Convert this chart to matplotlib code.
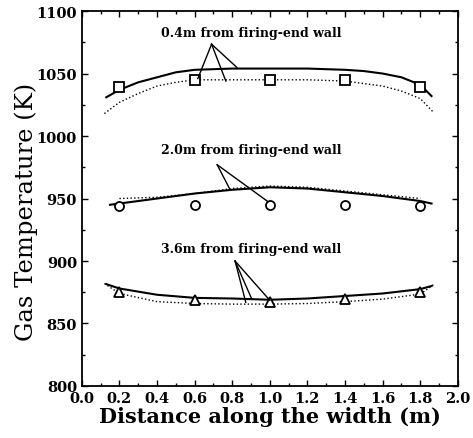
import numpy as np
import matplotlib
matplotlib.use("Agg")
import matplotlib.pyplot as plt
from matplotlib.ticker import MultipleLocator, FormatStrFormatter

# measured points (markers)
x_meas = [0.2, 0.6, 1.0, 1.4, 1.8]
t_04_meas = [1039, 1045, 1045, 1045, 1039]
t_20_meas = [944, 945, 945, 945, 944]
t_36_meas = [875, 869, 867, 869.5, 875.5]

# predicted curves, solid
x_04_solid = [0.13, 0.2, 0.3, 0.4, 0.5, 0.6, 0.8, 1.0, 1.2, 1.4, 1.5, 1.6, 1.7, 1.8, 1.86]
t_04_solid = [1031, 1037, 1043, 1047, 1051, 1053, 1054, 1054, 1054, 1053, 1052, 1050, 1047, 1041, 1032]
x_20_solid = [0.15, 0.4, 0.6, 0.8, 1.0, 1.2, 1.4, 1.6, 1.8, 1.86]
t_20_solid = [945, 950, 954, 957, 959, 958, 955, 952, 948, 946]
x_36_solid = [0.13, 0.2, 0.4, 0.6, 0.8, 1.0, 1.2, 1.4, 1.6, 1.8, 1.86]
t_36_solid = [881.5, 878, 873, 870.5, 870, 869, 870, 872, 874, 877.5, 880]

# predicted curves, dotted
x_04_dot = [0.12, 0.2, 0.3, 0.4, 0.5, 0.6, 0.8, 1.0, 1.2, 1.4, 1.5, 1.6, 1.7, 1.8, 1.87]
t_04_dot = [1018, 1027, 1034, 1040, 1043, 1045, 1045, 1045, 1045, 1044, 1042, 1040, 1036, 1030, 1019]
x_20_dot = [0.2, 0.4, 0.6, 0.8, 1.0, 1.2, 1.4, 1.6, 1.8]
t_20_dot = [950, 951, 954, 958, 960, 959, 956, 953, 950]
x_36_dot = [0.12, 0.2, 0.4, 0.6, 0.8, 1.0, 1.2, 1.4, 1.6, 1.8, 1.87]
t_36_dot = [882, 874, 867.5, 866, 865.5, 865.5, 866, 867.5, 869.5, 873.5, 881]

labels = ["0.4m from firing-end wall", "2.0m from firing-end wall", "3.6m from firing-end wall"]
label_pos = [(0.9, 1083), (0.9, 989), (0.9, 910)]
apex = [(0.69, 1073.5), (0.72, 977), (0.815, 900)]
targets = [
    [(0.617, 1046), (0.766, 1044), (0.824, 1055)],
    [(0.787, 957.5), (0.99, 947.5)],
    [(0.872, 867), (0.904, 869.5), (1.0, 868.5)],
]

plt.rcParams['font.family'] = ['DejaVu Serif']
plt.rcParams['font.weight'] = 'bold'

fig = plt.figure(figsize=(4.73, 4.39), dpi=100)
ax = fig.add_axes([0.173, 0.1185, 0.795, 0.854])

ax.plot(x_04_solid, t_04_solid, color='black', lw=1.5)
ax.plot(x_20_solid, t_20_solid, color='black', lw=1.5)
ax.plot(x_36_solid, t_36_solid, color='black', lw=1.5)
ax.plot(x_04_dot, t_04_dot, color='black', lw=1.0, linestyle=':')
ax.plot(x_20_dot, t_20_dot, color='black', lw=1.0, linestyle=':')
ax.plot(x_36_dot, t_36_dot, color='black', lw=1.0, linestyle=':')

ax.plot(x_meas, t_04_meas, 's', ms=6.5, mfc='white', mec='black', mew=1.3)
ax.plot(x_meas, t_20_meas, 'o', ms=6.5, mfc='white', mec='black', mew=1.3)
ax.plot(x_meas, t_36_meas, '^', ms=6.5, mfc='white', mec='black', mew=1.3)

for lab, (lx, ly), (ax0, ay0), tgts in zip(labels, label_pos, apex, targets):
    ax.text(lx, ly, lab, ha='center', va='center', fontsize=9, fontweight='bold')
    for tx, ty in tgts:
        ax.plot([ax0, tx], [ay0, ty], color='black', lw=1.0)

ax.set_xlim(0.0, 2.0)
ax.set_ylim(800, 1100)
ax.xaxis.set_major_locator(MultipleLocator(0.2))
ax.xaxis.set_minor_locator(MultipleLocator(0.1))
ax.xaxis.set_major_formatter(FormatStrFormatter('%.1f'))
ax.yaxis.set_major_locator(MultipleLocator(50))
ax.yaxis.set_minor_locator(MultipleLocator(25))
ax.tick_params(which='both', direction='in', top=True, right=True, labelsize=10.5)
ax.tick_params(which='major', length=4, width=1)
ax.tick_params(which='minor', length=2.5, width=1)
for s in ax.spines.values():
    s.set_linewidth(1.3)

ax.set_xlabel("Distance along the width (m)", fontsize=15, fontweight='bold', labelpad=1)
ax.set_ylabel("Gas Temperature (K)", fontsize=17.5, fontweight='normal')
ax.yaxis.set_label_coords(-0.117, 0.467)

fig.savefig("out.png", dpi=100)
